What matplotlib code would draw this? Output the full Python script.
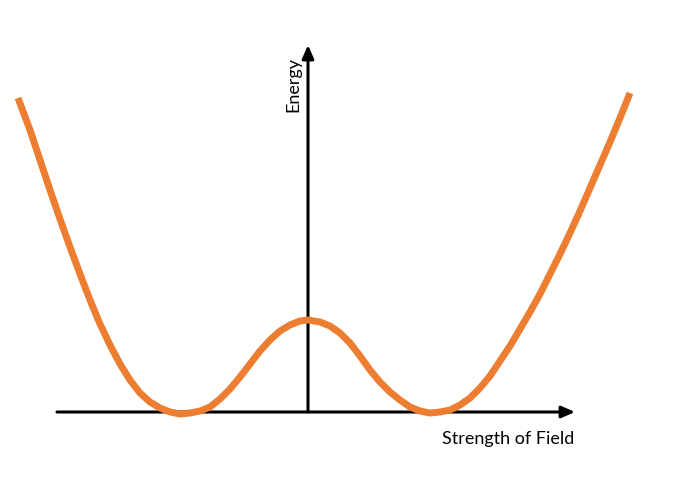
import numpy as np
from matplotlib import pyplot as plt

# field strength and energy (arbitrary units)
field = [-290, -278, -268, -258, -248, -238, -228, -218, -208, -198,
         -188, -178, -168, -158, -148, -138, -128, -118, -108, -98,
         -88, -78, -68, -58, -48, -38, -28, -18, -8, 0,
         12, 22, 32, 42, 52, 62, 72, 82, 92, 102,
         112, 122, 132, 142, 152, 162, 172, 182, 192, 202,
         212, 222, 232, 242, 252, 262, 272, 282, 292, 302,
         312, 322]
energy = [314, 282, 252, 222, 193, 165, 138, 112, 88, 67,
          48, 32, 19, 10, 4, 0, -2, -1, 1, 5,
          13, 23, 35, 48, 61, 72, 81, 87, 91, 92,
          90, 86, 79, 69, 56, 42, 30, 20, 12, 5,
          1, -1, 0, 2, 7, 14, 24, 36, 51, 66,
          83, 100, 118, 138, 158, 179, 201, 224, 247, 270,
          294, 319]

x_label = "Strength of Field"
y_label = "Energy"

fig = plt.figure(figsize=(6.91, 5.0), dpi=100)
ax = fig.add_axes([0, 0, 1, 1])
ax.set_xlim(-308, 383)
ax.set_ylim(-88, 412)
ax.axis("off")

arrow = dict(arrowstyle="-|>,head_length=0.8,head_width=0.35", color="black",
             lw=2.2, shrinkA=0, shrinkB=0)
ax.annotate("", xy=(267, 0), xytext=(-251, 0), arrowprops=arrow)
ax.annotate("", xy=(0, 367), xytext=(0, 0), arrowprops=arrow)

ax.plot(field, energy, color="#ED7D31", lw=5, solid_capstyle="butt",
        solid_joinstyle="round", zorder=3)

ax.text(200, -32, x_label, fontsize=13, family="Lato",
        ha="center", va="baseline")
ax.text(-15, 328, y_label, fontsize=13, family="Lato",
        rotation=90, ha="center", va="center")

fig.savefig("out.png", dpi=100)
